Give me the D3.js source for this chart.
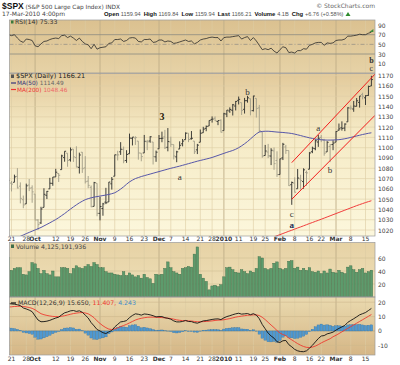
<!DOCTYPE html>
<html><head><meta charset="utf-8">
<script src="https://cdn.jsdelivr.net/npm/d3@7"></script>
<style>body{margin:0;background:#fff}svg{display:block}text{font-family:"DejaVu Sans",sans-serif}</style>
</head><body><svg id="c" width="400" height="365"></svg>
<script>
// ---------------- DATA ----------------
const dates = [
"2009-09-18","2009-09-21","2009-09-22","2009-09-23","2009-09-24","2009-09-25","2009-09-28","2009-09-29","2009-09-30",
"2009-10-01","2009-10-02","2009-10-05","2009-10-06","2009-10-07","2009-10-08","2009-10-09","2009-10-12","2009-10-13","2009-10-14","2009-10-15","2009-10-16","2009-10-19","2009-10-20","2009-10-21","2009-10-22","2009-10-23","2009-10-26","2009-10-27","2009-10-28","2009-10-29","2009-10-30",
"2009-11-02","2009-11-03","2009-11-04","2009-11-05","2009-11-06","2009-11-09","2009-11-10","2009-11-11","2009-11-12","2009-11-13","2009-11-16","2009-11-17","2009-11-18","2009-11-19","2009-11-20","2009-11-23","2009-11-24","2009-11-25","2009-11-27","2009-11-30",
"2009-12-01","2009-12-02","2009-12-03","2009-12-04","2009-12-07","2009-12-08","2009-12-09","2009-12-10","2009-12-11","2009-12-14","2009-12-15","2009-12-16","2009-12-17","2009-12-18","2009-12-21","2009-12-22","2009-12-23","2009-12-24","2009-12-28","2009-12-29","2009-12-30","2009-12-31",
"2010-01-04","2010-01-05","2010-01-06","2010-01-07","2010-01-08","2010-01-11","2010-01-12","2010-01-13","2010-01-14","2010-01-15","2010-01-19","2010-01-20","2010-01-21","2010-01-22","2010-01-25","2010-01-26","2010-01-27","2010-01-28","2010-01-29",
"2010-02-01","2010-02-02","2010-02-03","2010-02-04","2010-02-05","2010-02-08","2010-02-09","2010-02-10","2010-02-11","2010-02-12","2010-02-16","2010-02-17","2010-02-18","2010-02-19","2010-02-22","2010-02-23","2010-02-24","2010-02-25","2010-02-26",
"2010-03-01","2010-03-02","2010-03-03","2010-03-04","2010-03-05","2010-03-08","2010-03-09","2010-03-10","2010-03-11","2010-03-12","2010-03-15","2010-03-16","2010-03-17"];

const open = [1067.9,1065.6,1066.4,1072.1,1062.6,1049.5,1045.4,1063.7,1061.0,
1054.9,1029.7,1026.9,1042.0,1053.7,1060.0,1065.3,1071.6,1074.9,1078.7,1090.4,1094.7,1088.2,1098.6,1090.4,1080.9,1095.6,1080.4,1067.5,1061.5,1043.0,1065.4,
1036.2,1040.9,1047.1,1047.3,1064.9,1072.3,1093.0,1096.0,1098.3,1087.6,1094.1,1109.2,1109.4,1106.4,1094.7,1094.9,1105.8,1106.5,1105.5,1091.1,
1098.9,1109.0,1110.6,1100.4,1105.5,1103.0,1091.1,1098.7,1103.8,1107.8,1114.1,1108.6,1106.4,1097.9,1105.3,1114.5,1118.8,1121.1,1127.5,1128.6,1125.5,1126.6,
1116.6,1132.7,1135.7,1136.3,1140.5,1146.0,1143.8,1137.3,1145.7,1147.7,1136.0,1147.9,1138.7,1115.5,1092.4,1095.8,1091.9,1096.9,1087.6,
1073.9,1090.1,1100.7,1097.3,1064.1,1065.5,1060.1,1069.7,1067.1,1076.0,1079.1,1096.1,1099.0,1105.5,1110.0,1107.5,1095.9,1101.2,1103.1,
1105.4,1117.0,1119.4,1119.1,1125.1,1138.4,1137.6,1140.2,1144.0,1151.7,1148.5,1150.8,1159.94];
const high = [1071.5,1067.6,1073.8,1080.2,1066.3,1053.5,1065.1,1069.6,1063.4,
1054.9,1030.6,1042.6,1060.6,1058.0,1070.7,1071.5,1079.5,1075.3,1093.2,1096.6,1094.7,1100.2,1098.6,1101.4,1095.2,1095.8,1091.8,1072.5,1063.3,1066.8,1065.4,
1052.2,1046.4,1061.0,1066.7,1071.5,1093.2,1097.0,1105.4,1101.1,1097.6,1113.7,1110.3,1111.1,1106.4,1094.7,1112.4,1107.6,1111.2,1105.5,1097.2,
1112.3,1115.6,1117.3,1119.1,1110.7,1103.0,1097.0,1106.2,1108.5,1114.9,1114.1,1116.2,1106.4,1103.7,1117.7,1120.3,1121.6,1126.5,1130.4,1130.4,1126.4,1127.6,
1133.9,1136.6,1139.2,1142.5,1145.4,1149.7,1143.8,1148.4,1150.4,1147.8,1150.5,1147.9,1141.6,1115.5,1102.7,1103.7,1099.5,1100.2,1096.5,
1089.4,1104.7,1102.7,1097.3,1067.1,1071.2,1079.3,1073.7,1080.0,1077.8,1095.7,1101.0,1108.2,1112.4,1112.3,1108.6,1106.4,1103.5,1107.2,
1116.1,1123.5,1125.6,1123.7,1139.4,1141.1,1145.4,1148.3,1150.2,1153.4,1151.0,1160.3,1169.84];
const low = [1064.3,1057.5,1066.4,1060.4,1045.9,1041.2,1045.4,1057.8,1046.5,
1029.4,1019.95,1025.9,1042.0,1050.1,1060.0,1063.0,1071.6,1066.7,1078.7,1086.4,1081.5,1086.5,1086.2,1080.8,1074.9,1075.5,1065.2,1060.6,1042.2,1043.0,1033.4,
1029.4,1033.9,1045.2,1047.3,1059.3,1072.3,1087.6,1093.0,1084.9,1085.3,1094.1,1102.2,1102.7,1088.4,1086.8,1094.9,1097.6,1104.8,1083.7,1086.3,
1098.9,1105.3,1098.7,1096.5,1100.8,1088.6,1085.9,1098.7,1101.3,1107.8,1105.4,1107.9,1093.9,1093.8,1105.3,1114.5,1116.0,1121.1,1124.4,1126.1,1121.9,1114.8,
1116.6,1129.7,1133.9,1131.3,1136.2,1142.0,1131.8,1133.2,1143.8,1131.4,1135.2,1129.3,1114.8,1090.2,1092.4,1089.9,1083.1,1078.5,1071.6,
1073.9,1088.0,1094.0,1062.8,1044.5,1056.5,1060.1,1059.3,1060.1,1063.0,1079.1,1094.7,1097.5,1100.8,1105.4,1092.2,1095.9,1086.0,1097.6,
1105.4,1116.5,1116.6,1116.1,1125.1,1136.8,1134.9,1140.1,1139.0,1147.0,1141.5,1150.4,1159.94];
const close = [1068.30,1064.66,1071.66,1060.87,1050.78,1044.38,1062.98,1060.61,1057.08,
1029.85,1025.21,1040.46,1054.72,1057.58,1065.48,1071.49,1076.19,1073.19,1092.02,1096.56,1087.68,1097.91,1091.06,1081.40,1092.91,1079.60,1066.95,1063.41,1042.63,1066.11,1036.19,
1042.88,1045.41,1046.50,1066.63,1069.30,1093.08,1093.01,1098.51,1087.24,1093.48,1109.30,1110.32,1109.80,1094.90,1091.38,1106.24,1105.65,1110.63,1091.49,1095.63,
1108.86,1109.24,1099.92,1105.98,1103.25,1091.94,1095.95,1102.35,1106.41,1114.11,1107.93,1109.18,1096.08,1102.47,1114.05,1118.02,1120.59,1126.48,1127.78,1126.20,1126.42,1115.10,
1132.99,1136.52,1137.14,1141.69,1144.98,1146.98,1136.22,1145.68,1148.46,1136.03,1150.23,1138.04,1116.48,1091.76,1096.78,1092.17,1097.50,1084.53,1073.87,
1089.19,1103.32,1097.28,1063.11,1066.19,1056.74,1070.52,1068.13,1078.47,1075.51,1094.87,1099.51,1106.75,1109.17,1108.01,1094.60,1105.24,1102.94,1104.49,
1115.71,1118.31,1118.79,1122.97,1138.70,1138.50,1140.45,1145.61,1150.24,1149.99,1150.51,1159.46,1166.21];

const ma50 = [1008.8,1010,1011.3,1012.6,1013.9,1015.2,1016.5,1017.7,1018.9,1020.1,1021.3,
1022.5,1024,1025.5,1027,1028.6,1030.2,1032,1034,1036,1038.2,
1040.4,1042.5,1044.5,1046.4,1048,1049.5,1050.5,1051.3,1052,1052.5,
1053,1053.5,1054,1054.6,1055.3,1056.2,1057.8,1059.8,1062,1064.5,
1066.8,1068.5,1070,1071,1072,1072.8,1073.6,1074.4,1075.2,1076,
1076.8,1077.6,1078.4,1079.2,1080,1080.7,1081.4,1082.1,1082.9,1083.7,
1084.5,1085.3,1086.1,1086.9,1087.6,1088.3,1089,1089.7,1090.5,1091.5,
1092.5,1093.5,1094.5,1095.5,1096.4,1097.3,1098.5,1100,1101.8,1103.8,
1106,1108.5,1111,1113.5,1115.3,1115.8,1116,1116,1115.8,1115.5,
1115.2,1115,1114.8,1114.5,1114.2,1113.8,1113.2,1112.5,1111.8,1111,
1110.3,1109.6,1109,1108.5,1108,1107.7,1107.5,1107.4,1107.4,1107.5,
1107.6,1107.8,1108.2,1108.7,1109.3,1110,1110.7,1111.4,1112.1,1112.8,
1113.4,1114,1114.49];

const ma200Dates = dates.slice(87);
const ma200 = [1010.2,1011.3,1012.4,1013.4,1014.5,1015.5,1016.6,1017.7,1018.8,1019.8,1020.9,1022.0,1023.0,1024.1,1025.2,1026.3,1027.3,1028.4,1029.4,1030.5,1031.6,1032.7,1033.8,1034.9,1036.0,1037.1,1038.2,1039.3,1040.4,1041.5,1042.6,1043.7,1044.7,1045.7,1046.7,1047.6,1048.46];

const rsi = [70, 68,70,63,57,54,61,60,58,
47,45,51,56,57,60,62,63,62,68,69,64,67,63,58,63,56,51,49,41,50,40,
43,44,45,52,53,60,60,61,56,58,63,64,63,56,55,60,60,61,54,55,
59,59,55,57,56,52,53,55,57,59,56,57,51,54,59,61,62,64,65,64,64,57,
64,65,65,66,67,68,61,64,66,58,64,57,48,39,41,39,42,36,32,
39,45,43,33,34,32,37,37,41,40,48,50,53,54,54,48,53,52,53,
58,59,59,61,67,67,68,69,71,70,70,73,75.33];

// volume in hundreds of millions
const volume = [61, 41,44,45,45,35,34,39,53,
51,44,36,41,36,34,40,31,31,45,45,44,36,44,48,45,44,47,50,47,53,50,
45,45,39,37,37,35,34,33,39,33,37,34,31,33,29,35,30,28,21,35,
34,35,44,54,45,39,37,35,44,45,47,46,66,77,35,29,24,11,17,18,16,19,
31,45,46,42,38,37,42,39,36,40,38,44,62,60,44,42,44,52,54,
44,42,44,55,56,44,46,41,44,41,45,39,38,40,36,40,37,43,38,
37,41,38,36,46,48,42,38,42,44,37,39,41.25];

const macd = [19.0,18.8,18.6,18.2,17.6,16.0,15.3,14.5,13.4,10.4,7.6,6.4,6.5,6.8,7.4,8.2,9.0,9.6,11.2,12.6,13.2,14.0,14.2,13.6,14.0,13.0,11.0,9.0,5.8,3.5,1.0,0.0,-1.2,-1.8,-0.6,0.3,2.8,4.6,6.3,6.6,7.2,9.3,10.8,11.9,11.6,11.0,11.8,11.6,11.2,10.6,9.8,10.0,10.0,9.2,8.8,8.2,7.0,6.3,6.3,6.6,7.3,6.6,6.5,5.8,5.4,6.2,7.0,7.2,7.6,8.0,8.3,8.4,7.9,9.1,10.0,10.6,11.3,11.9,12.3,11.7,11.9,12.1,11.3,12.0,11.0,8.5,4.5,1.5,-1.5,-3.5,-5.0,-7.5,-8.0,-6.8,-6.6,-9.5,-11.0,-12.8,-13.8,-14.3,-14.4,-13.8,-12.0,-10.0,-7.6,-5.3,-3.5,-3.2,-2.0,-1.5,-0.8,0.6,1.8,2.8,3.9,6.0,7.3,8.5,9.8,11.2,12.0,12.8,14.2,15.65];
const signal = [16.6,16.8,17.0,17.1,17.2,17.0,16.7,16.3,15.7,14.7,13.3,12.0,11.3,10.8,10.4,10.1,10.0,10.0,10.2,10.6,11.1,11.6,12.1,12.4,12.7,12.8,12.5,11.9,10.7,9.2,7.0,5.2,3.6,2.3,1.3,1.0,1.4,2.1,3.0,3.8,4.6,5.6,6.6,7.6,8.3,8.8,9.2,9.5,9.6,9.6,9.5,9.4,9.3,9.1,8.9,8.6,8.2,7.7,7.4,7.2,7.1,7.0,6.9,6.6,6.4,6.4,6.5,6.6,6.8,7.0,7.3,7.5,7.6,7.8,8.2,8.6,9.1,9.6,10.0,10.3,10.6,10.9,11.0,11.2,11.2,10.7,9.5,7.9,6.0,4.1,2.3,0.3,-1.4,-2.5,-3.3,-4.9,-6.2,-7.5,-8.8,-9.9,-10.8,-11.4,-11.5,-11.2,-10.5,-9.5,-8.3,-7.3,-6.3,-5.4,-4.0,-3.0,-1.8,-0.6,0.6,1.8,3.0,4.2,5.4,6.6,7.8,9.0,10.2,11.41];
const hist = [2.4,2.0,1.6,1.1,0.4,-1.0,-1.4,-1.8,-2.3,-4.3,-5.7,-5.6,-4.8,-4.0,-3.0,-1.9,-1.0,-0.4,1.0,2.0,2.1,2.4,2.1,1.2,1.3,0.2,-1.5,-2.9,-4.9,-5.7,-6.0,-5.2,-4.8,-4.1,-1.9,-0.7,1.4,2.5,3.3,2.8,2.6,3.7,4.2,4.3,3.3,2.2,2.6,2.1,1.6,1.0,0.3,0.6,0.7,0.1,-0.1,-0.4,-1.2,-1.4,-1.1,-0.6,0.2,-0.4,-0.4,-0.8,-1.0,-0.2,0.5,0.6,0.8,1.0,1.0,0.9,0.3,1.3,1.8,2.0,2.2,2.3,2.3,1.4,1.3,1.2,0.3,0.8,-0.2,-2.2,-5.0,-6.4,-7.5,-7.6,-7.3,-7.8,-6.6,-4.3,-3.3,-4.6,-4.8,-5.3,-5.0,-4.4,-3.6,-2.4,-0.5,1.2,2.9,4.2,4.8,4.1,4.3,3.9,3.2,3.6,3.6,3.4,3.3,4.2,4.3,4.3,4.4,4.6,4.2,3.8,4.0,4.24];

const tickDates = ["2009-09-21","2009-09-28","2009-10-01","2009-10-12","2009-10-19","2009-10-26","2009-11-02","2009-11-09","2009-11-16","2009-11-23","2009-12-01","2009-12-07","2009-12-14","2009-12-21","2009-12-28","2010-01-04","2010-01-11","2010-01-19","2010-01-25","2010-02-01","2010-02-08","2010-02-16","2010-02-22","2010-03-01","2010-03-08","2010-03-15"];
const tickLabels = ["21","28","Oct","12","19","26","Nov","9","16","23","Dec","7","14","21","28","2010","11","19","25","Feb","8","16","22","Mar","8","15"];
const monthTicks = ["Oct","Nov","Dec","2010","Feb","Mar"];

const priceTicks = [1020,1030,1040,1050,1060,1070,1080,1090,1100,1110,1120,1130,1140,1150,1160,1170];
const rsiTicks = [90,70,50,30,10];
const volTicks = [20,40,60];
const macdTicks = [-10,0,10,20];

const waveText  = ["3","a","b","a","b","c","a","b","c"];
const waveDates = ["2009-12-02","2009-12-10","2010-01-14","2010-02-19","2010-02-25","2010-02-05","2010-02-05","2010-03-17","2010-03-17"];
const wavePrice = [1130,1072,1154.4,1119,1078,1035.6,1025,1184.7,1177];

const trendStart = [["2010-02-05",1085.5],["2010-02-05",1049.9]];
const trendEnd   = [["2010-03-17",1167.8],["2010-03-17",1127.9]];

const hdrLabels = ["Open","High","Low","Last","Volume","Chg"];
const hdrValues = ["1159.94","1169.84","1159.94","1166.21","4.1B","+6.76 (+0.58%)"];

// ---------------- DRAW ----------------
const svg = d3.select("#c");
const X0 = 9.5, X1 = 375;
const P = {rsi:[20,73], price:[73.3,236], vol:[242.5,297], macd:[297,355]};

const x = d3.scaleBand().domain(dates).range([7.075, 372.875]);
const cx = d => x(d) + x.bandwidth()/2;
const yR = d3.scaleLinear().domain([0,100]).range([68.5,20.2]);
const yP = d3.scaleLinear().domain([1014.2,1172.3]).range([236,73.3]);
const yV = d3.scaleLinear().domain([0,84]).range([297,242.4]);
const yM = d3.scaleLinear().domain([-16.7,23.6]).range([355,297]);

const defs = svg.append("defs");
function grad(id, stops){
  const g = defs.append("linearGradient").attr("id",id).attr("x1",0).attr("y1",0).attr("x2",0).attr("y2",1);
  stops.forEach(s=>g.append("stop").attr("offset",s[0]).attr("stop-color",s[1]));
}
grad("gR",[[0,"#dbc190"],[1,"#e6d2a6"]]);
grad("gP",[[0,"#e2c99a"],[0.35,"#f5eac5"],[1,"#fcf7dc"]]);
grad("gV",[[0,"#e6d2a5"],[1,"#efe0b8"]]);
grad("gM",[[0,"#eadaaf"],[1,"#d5b686"]]);

Object.entries(P).forEach(([k,v])=>{
  defs.append("clipPath").attr("id","cl"+k).append("rect").attr("x",X0).attr("y",v[0]).attr("width",X1-X0).attr("height",v[1]-v[0]);
});
const fills = {rsi:"gR",price:"gP",vol:"gV",macd:"gM"};
Object.entries(P).forEach(([k,v])=>{
  svg.append("rect").attr("x",X0).attr("y",v[0]).attr("width",X1-X0).attr("height",v[1]-v[0]).attr("fill",`url(#${fills[k]})`);
});

// gridlines
Object.entries(P).forEach(([k,v])=>{
  svg.append("g").selectAll("line").data(tickDates).join("line")
    .attr("x1",d=>cx(d)).attr("x2",d=>cx(d)).attr("y1",v[0]).attr("y2",v[1])
    .attr("stroke",(d,i)=>monthTicks.includes(tickLabels[i])?"#bfae88":"#dccba3")
    .attr("stroke-width",(d,i)=>monthTicks.includes(tickLabels[i])?0.9:0.6);
});
function hgrid(ticks, y, col){
  svg.append("g").selectAll("line").data(ticks).join("line")
    .attr("x1",X0).attr("x2",X1).attr("y1",d=>y(d)).attr("y2",d=>y(d)).attr("stroke",col).attr("stroke-width",0.6);
}
hgrid(priceTicks, yP, "#dfcfa6");
hgrid(volTicks, yV, "#d2bf95");
hgrid(macdTicks.filter(t=>t!==0), yM, "#cdb78c");

// RSI reference lines
svg.append("g").selectAll("line").data([70,30]).join("line")
  .attr("x1",X0).attr("x2",X1).attr("y1",d=>yR(d)).attr("y2",d=>yR(d)).attr("stroke","#8c8a82").attr("stroke-width",0.8);
svg.append("line").attr("x1",X0).attr("x2",X1).attr("y1",yR(50)).attr("y2",yR(50))
  .attr("stroke","#8c8a82").attr("stroke-width",0.7).attr("stroke-dasharray","4,2,1,2");
svg.append("path").datum(rsi).attr("clip-path","url(#clrsi)")
  .attr("d",d3.line().x((d,i)=>cx(dates[i])).y(d=>yR(d)))
  .attr("fill","none").attr("stroke","#2a2a2a").attr("stroke-width",0.8);
svg.append("path").attr("d",`M${cx(dates[123])-2},${yR(rsi[123])} l4,-3 l0,3 z`).attr("fill","#3c8a3c");

// Price bars
const gP = svg.append("g").attr("clip-path","url(#clprice)");
const col = i => (i===0 ? close[i]>=open[i] : close[i]>=close[i-1]) ? "#3d3d38" : "#a9a48e";
const bars = gP.selectAll("g.bar").data(dates).join("g");
bars.append("line").attr("x1",d=>cx(d)).attr("x2",d=>cx(d))
  .attr("y1",(d,i)=>yP(high[i])).attr("y2",(d,i)=>yP(low[i])).attr("stroke",(d,i)=>col(i)).attr("stroke-width",1);
bars.append("line").attr("x1",d=>cx(d)-1.5).attr("x2",d=>cx(d))
  .attr("y1",(d,i)=>yP(open[i])).attr("y2",(d,i)=>yP(open[i])).attr("stroke",(d,i)=>col(i)).attr("stroke-width",1);
bars.append("line").attr("x1",d=>cx(d)).attr("x2",d=>cx(d)+1.5)
  .attr("y1",(d,i)=>yP(close[i])).attr("y2",(d,i)=>yP(close[i])).attr("stroke",(d,i)=>col(i)).attr("stroke-width",1);

// MAs
gP.append("path").datum(ma50).attr("d",d3.line().x((d,i)=>cx(dates[i])).y(d=>yP(d)))
  .attr("fill","none").attr("stroke","#5656a8").attr("stroke-width",1);
gP.append("path").datum(ma200).attr("d",d3.line().x((d,i)=>cx(ma200Dates[i])).y(d=>yP(d)))
  .attr("fill","none").attr("stroke","#f03c3c").attr("stroke-width",1);

// trend lines (extended to the right edge)
trendStart.forEach((s,k)=>{
  const e = trendEnd[k];
  const xa=cx(s[0]), ya=yP(s[1]), xb=cx(e[0]), yb=yP(e[1]);
  const slope=(yb-ya)/(xb-xa);
  gP.append("line").attr("x1",xa).attr("y1",ya).attr("x2",X1).attr("y2",ya+slope*(X1-xa))
    .attr("stroke","#f21c1c").attr("stroke-width",1);
});

// Volume
svg.append("g").attr("clip-path","url(#clvol)").selectAll("rect").data(volume).join("rect")
  .attr("x",(d,i)=>x(dates[i])+0.2).attr("width",x.bandwidth()-0.4)
  .attr("y",d=>yV(d)).attr("height",d=>yV(0)-yV(d))
  .attr("fill","#5d9b6c").attr("stroke","#3a6a46").attr("stroke-width",0.4);

// MACD
const gM = svg.append("g").attr("clip-path","url(#clmacd)");
gM.append("line").attr("x1",X0).attr("x2",X1).attr("y1",yM(0)).attr("y2",yM(0)).attr("stroke","#a89a7c").attr("stroke-width",0.6);
gM.selectAll("rect").data(hist).join("rect")
  .attr("x",(d,i)=>x(dates[i])+0.2).attr("width",x.bandwidth()-0.4)
  .attr("y",d=>Math.min(yM(d),yM(0))).attr("height",d=>Math.abs(yM(d)-yM(0)))
  .attr("fill","#4f98d0").attr("stroke","#2f6e9e").attr("stroke-width",0.3);
gM.append("path").datum(signal).attr("d",d3.line().x((d,i)=>cx(dates[i])).y(d=>yM(d)))
  .attr("fill","none").attr("stroke","#ee3a30").attr("stroke-width",0.9);
gM.append("path").datum(macd).attr("d",d3.line().x((d,i)=>cx(dates[i])).y(d=>yM(d)))
  .attr("fill","none").attr("stroke","#111").attr("stroke-width",0.9);

// borders
Object.values(P).forEach(v=>{
  svg.append("rect").attr("x",X0).attr("y",v[0]).attr("width",X1-X0).attr("height",v[1]-v[0])
    .attr("fill","none").attr("stroke","#9a9a9a").attr("stroke-width",0.7);
});

// wave labels
svg.append("g").selectAll("text").data(waveText).join("text")
  .attr("x",(d,i)=>cx(waveDates[i])).attr("y",(d,i)=>yP(wavePrice[i]))
  .attr("text-anchor","middle").attr("dominant-baseline","central")
  .style("font-family","'Liberation Serif',serif")
  .style("font-size",(d,i)=>i===0?"10px":(i>=7?"8px":"9px")).style("font-weight",(d,i)=>(i===0||i===6||i===7)?"bold":"normal")
  .attr("fill",(d,i)=>i===6?"#1b2a55":(i===0?"#2a1d0c":"#333"))
  .text(d=>d);

// right axes
function raxis(ticks, y){
  svg.append("g").selectAll("text").data(ticks).join("text")
    .attr("x",378).attr("y",d=>y(d)).attr("dominant-baseline","central")
    .style("font-size","6px").attr("fill","#444").text(d=>d);
}
raxis(rsiTicks, yR);
raxis(priceTicks, yP);
raxis(volTicks, yV);
raxis(macdTicks, yM);

// date axes
[241, 361].forEach(yy=>{
  svg.append("g").selectAll("text").data(tickDates).join("text")
    .attr("x",d=>cx(d)).attr("y",yy).attr("text-anchor","middle")
    .style("font-size","6px").style("font-weight",(d,i)=>monthTicks.includes(tickLabels[i])?"bold":"normal")
    .attr("fill","#333").text((d,i)=>tickLabels[i]);
});

// header
svg.append("text").attr("x",2).attr("y",9).style("font-family","'Liberation Sans',sans-serif")
  .style("font-size","8.5px").style("font-weight","bold").attr("fill","#111").text("$SPX");
svg.append("text").attr("x",25.5).attr("y",9).style("font-size","5.8px").attr("fill","#444").text("(S&P 500 Large Cap Index) INDX");
svg.append("text").attr("x",2).attr("y",16).style("font-size","6px").attr("fill","#444").text("17-Mar-2010 4:00pm");
svg.append("text").attr("x",375).attr("y",8).attr("text-anchor","end").style("font-size","6px").attr("fill","#666").text("© StockCharts.com");

// header quote line: pieces laid out one after another, spread over the reference span
const pieces = [];
hdrLabels.forEach((l,i)=>{ pieces.push([l,true]); pieces.push([hdrValues[i],false]); });
const nodes = pieces.map(p=>svg.append("text").attr("y",16).style("font-family","'Liberation Sans',sans-serif")
  .style("font-size",p[1]?"5.9px":"5.6px").style("font-weight",p[1]?"bold":"normal")
  .attr("fill",p[1]?"#111":"#555").text(p[0]));
const widths = nodes.map(n=>n.node().getComputedTextLength());
const span = 340 - 104, total = d3.sum(widths);
const gapSmall = 1.8;
const bigGap = Math.max(3, (span - total - gapSmall*6) / 5);
let xx = 104;
nodes.forEach((n,i)=>{ n.attr("x",xx); xx += widths[i] + (i%2===0 ? gapSmall : bigGap); });
svg.append("path").attr("d",`M${Math.max(342, xx - bigGap + 2)},16 l2.5,-4 l2.5,4 z`).attr("fill","#2e8b2e");

// legends
svg.append("rect").attr("x",11).attr("y",20.5).attr("width",2.5).attr("height",3).attr("fill","#3a7a3a");
svg.append("text").attr("x",15).attr("y",24).style("font-size","6.2px").attr("fill","#333").text("RSI(14) 75.33");

svg.append("rect").attr("x",11).attr("y",74.5).attr("width",3).attr("height",3.5).attr("fill","#555");
svg.append("text").attr("x",16).attr("y",78).style("font-size","6.5px").attr("fill","#222").text("$SPX (Daily) 1166.21");
svg.append("line").attr("x1",11).attr("x2",16).attr("y1",83).attr("y2",83).attr("stroke","#33337a").attr("stroke-width",1.2);
svg.append("text").attr("x",17).attr("y",85).style("font-size","5.8px").attr("fill","#33337a").text("MA(50)")
  .append("tspan").attr("fill","#666").text(" 1114.49");
svg.append("line").attr("x1",11).attr("x2",16).attr("y1",89.5).attr("y2",89.5).attr("stroke","#e33").attr("stroke-width",1.2);
svg.append("text").attr("x",17).attr("y",91.5).style("font-size","5.8px").attr("fill","#e33").text("MA(200)")
  .append("tspan").attr("fill","#e66").text(" 1048.46");

svg.append("rect").attr("x",11).attr("y",244.5).attr("width",3).attr("height",3.5).attr("fill","#3f6f4a");
svg.append("text").attr("x",16).attr("y",248.5).style("font-size","6.2px").attr("fill","#444").text("Volume 4,125,191,936");

svg.append("line").attr("x1",11).attr("x2",16).attr("y1",303).attr("y2",303).attr("stroke","#111").attr("stroke-width",1.2);
const mt = svg.append("text").attr("x",18).attr("y",305).style("font-size","6.2px");
mt.append("tspan").attr("fill","#333").text("MACD(12,26,9) 15.650, ");
mt.append("tspan").attr("fill","#ee3a30").text("11.407, ");
mt.append("tspan").attr("fill","#3f8cc8").text("4.243");
</script></body></html>
